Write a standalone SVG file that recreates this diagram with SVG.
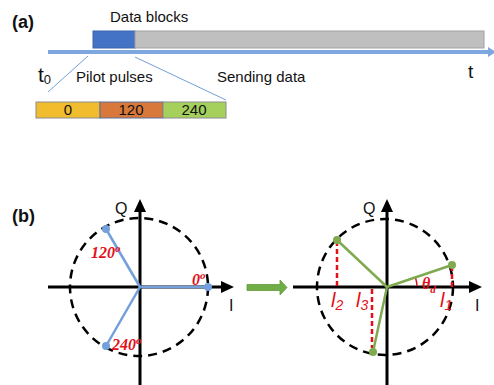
<svg xmlns="http://www.w3.org/2000/svg" width="494" height="385" viewBox="0 0 494 385">
<defs>
<style>
.sans{font-family:"Liberation Sans","Open Sans",Arial,sans-serif;fill:#111}
.lbl{font-family:"Liberation Serif","Times New Roman",serif;font-weight:bold;font-style:italic;fill:#E3101A;font-size:16px}
.il{font-family:"Liberation Sans",Arial,sans-serif;font-style:italic;fill:#E3101A}
.axis{stroke:#000;stroke-width:3;fill:none}
.circ{stroke:#000;stroke-width:2.5;fill:none;stroke-dasharray:9 6}
.blue{stroke:#739FDC;stroke-width:2.5;fill:none}
.green{stroke:#7FAA4F;stroke-width:2.5;fill:none}
.rdash{stroke:#E3101A;stroke-width:2.5;stroke-dasharray:5 3;fill:none}
.zoom{stroke:#739FDC;stroke-width:1;fill:none}
</style>
</defs>
<rect width="494" height="385" fill="#fff"/>

<!-- (a) -->
<g id="label-a"><text x="12" y="28" class="sans" font-size="18" font-weight="bold">(a)</text></g>
<g id="data-blocks-label"><text x="110" y="22" class="sans" font-size="15">Data blocks</text></g>
<g id="pilot-block"><rect x="93" y="31" width="42" height="17" fill="#4472C4" stroke="#3A64AE" stroke-width="1"/></g>
<g id="data-block"><rect x="135" y="31" width="349" height="17" fill="#BFBFBF" stroke="#A0A0A0" stroke-width="1"/></g>
<g id="timeline">
<line x1="48" y1="52" x2="490" y2="52" stroke="#7EA6DF" stroke-width="4"/>
<polygon points="488,47 496,52 488,57" fill="#7EA6DF"/>
</g>
<g id="t0"><text x="38" y="82" class="sans" font-size="21">t<tspan font-size="13" dy="2">0</tspan></text></g>
<g id="t-end"><text x="468" y="78" class="sans" font-size="19">t</text></g>
<g id="pilot-label"><text x="76" y="82" class="sans" font-size="15">Pilot pulses</text></g>
<g id="sending-label"><text x="217" y="82" class="sans" font-size="15">Sending data</text></g>
<g id="connectors-a">
<line class="zoom" x1="88" y1="56" x2="48" y2="92"/>
<line class="zoom" x1="135" y1="57" x2="226" y2="100"/>
</g>
<g id="pilot-bar">
<rect x="36" y="102" width="64" height="16" fill="#F2BC2F" stroke="#8C8C8C" stroke-width="1"/>
<rect x="100" y="102" width="63" height="16" fill="#D8793B" stroke="#5B6E9C" stroke-width="1"/>
<rect x="163" y="102" width="63" height="16" fill="#A5D05C" stroke="#8C8C8C" stroke-width="1"/>
<text x="68" y="115" class="sans" font-size="15" text-anchor="middle">0</text>
<text x="131" y="115" class="sans" font-size="15" text-anchor="middle">120</text>
<text x="194" y="115" class="sans" font-size="15" text-anchor="middle">240</text>
</g>

<!-- (b) -->
<g id="label-b"><text x="12" y="222" class="sans" font-size="18" font-weight="bold">(b)</text></g>

<g id="left-plot">
<circle class="circ" cx="139" cy="287" r="69"/>
<line class="axis" x1="48" y1="287" x2="224" y2="287"/>
<polygon points="221,281 234,287 221,293"/>
<line class="axis" x1="140" y1="385" x2="140" y2="210"/>
<polygon points="134,212 140,199 146,212"/>
<text x="115" y="214" class="sans" font-size="16">Q</text>
<text x="229" y="311" class="sans" font-size="16">I</text>
</g>
<g id="connectors-left">
<line class="blue" x1="140" y1="287" x2="208" y2="287"/>
<line class="blue" x1="140" y1="287" x2="106" y2="229"/>
<line class="blue" x1="140" y1="287" x2="106" y2="346"/>
</g>
<g id="left-points" fill="#739FDC">
<circle cx="208" cy="287" r="4"/>
<circle cx="106" cy="229" r="4"/>
<circle cx="106" cy="346" r="4"/>
</g>
<g id="left-labels">
<text x="91" y="258" class="lbl">120<tspan font-size="11" dy="-6">o</tspan></text>
<text x="192" y="285" class="lbl">0<tspan font-size="11" dy="-6">o</tspan></text>
<text x="112" y="350" class="lbl">240<tspan font-size="11" dy="-6">o</tspan></text>
</g>

<g id="transform-arrow">
<polygon points="247,284.5 280,284.5 280,280 287,287.5 280,295 280,290.5 247,290.5" fill="#70AD47" stroke="#5E9A3A" stroke-width="0.8"/>
</g>

<g id="right-plot">
<circle class="circ" cx="385" cy="287" r="68"/>
<line class="axis" x1="293" y1="287" x2="472" y2="287"/>
<polygon points="469,281 482,287 469,293"/>
<line class="axis" x1="387" y1="385" x2="387" y2="210"/>
<polygon points="381,212 387,199 393,212"/>
<text x="363" y="214" class="sans" font-size="16">Q</text>
<text x="475" y="311" class="sans" font-size="16">I</text>
</g>
<g id="projections">
<line class="rdash" x1="452" y1="266" x2="452" y2="287"/>
<line class="rdash" x1="337" y1="241" x2="337" y2="287"/>
<line class="rdash" x1="372" y1="289" x2="372" y2="348"/>
<path d="M417,286 A30,30 0 0 0 415.4,277.4" stroke="#E3101A" stroke-width="1.5" fill="none"/>
</g>
<g id="connectors-right">
<line class="green" x1="387" y1="287" x2="452" y2="265"/>
<line class="green" x1="387" y1="287" x2="337" y2="240"/>
<line class="green" x1="387" y1="287" x2="373" y2="352"/>
</g>
<g id="right-points" fill="#7FAA4F">
<circle cx="452" cy="265" r="4"/>
<circle cx="337" cy="240" r="4"/>
<circle cx="373" cy="352" r="4"/>
</g>
<g id="right-labels">
<text x="422" y="289" class="lbl" font-size="17">θ<tspan font-size="11" dy="4">d</tspan></text>
<text x="331" y="307" class="il" font-size="20">l<tspan font-size="14" dy="3">2</tspan></text>
<text x="356" y="307" class="il" font-size="20">l<tspan font-size="14" dy="3">3</tspan></text>
<text x="440" y="307" class="il" font-size="20">l<tspan font-size="14" dy="3">1</tspan></text>
</g>
</svg>
